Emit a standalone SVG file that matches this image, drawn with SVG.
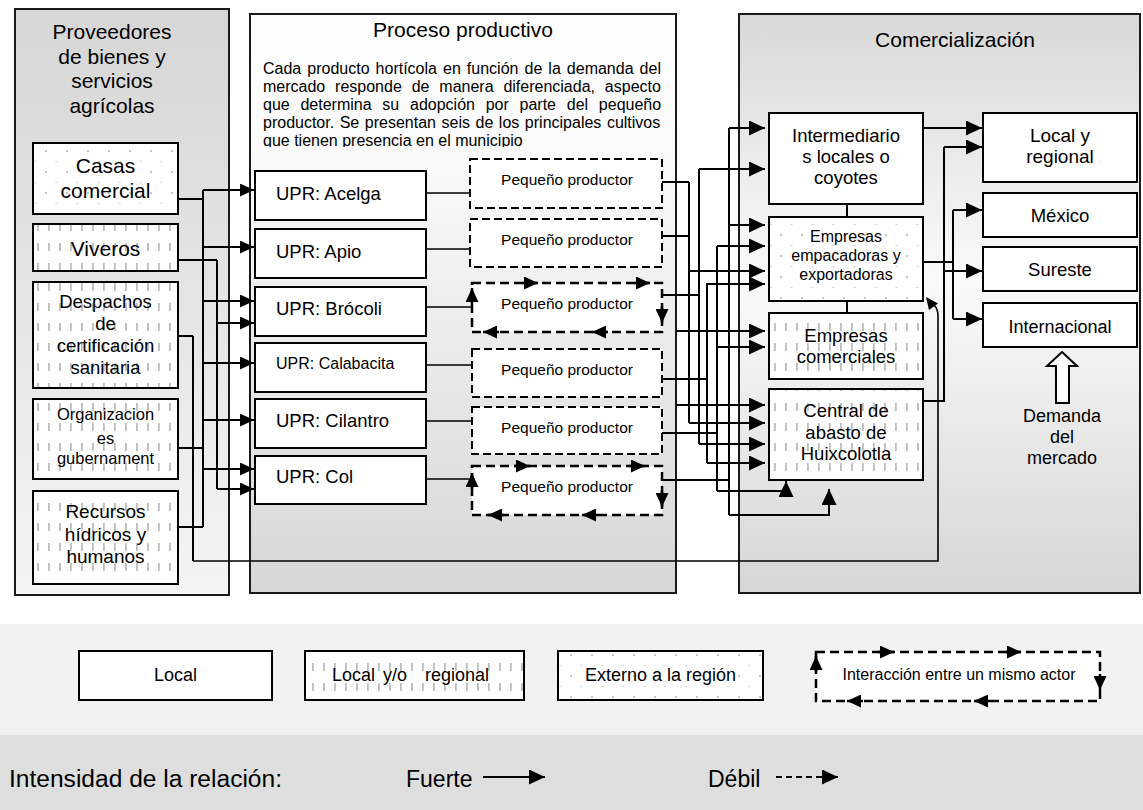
<svg xmlns="http://www.w3.org/2000/svg" width="1143" height="810" viewBox="0 0 1143 810">
<defs>
  <linearGradient id="gLeft" x1="0" y1="0" x2="0" y2="1">
    <stop offset="0" stop-color="#d6d6d6"/><stop offset="1" stop-color="#f4f4f4"/>
  </linearGradient>
  <linearGradient id="gMid" x1="0" y1="0" x2="0" y2="1">
    <stop offset="0" stop-color="#ffffff"/><stop offset="0.25" stop-color="#fafafa"/><stop offset="1" stop-color="#d6d6d6"/>
  </linearGradient>
  <linearGradient id="gRight" x1="0" y1="0" x2="0" y2="1">
    <stop offset="0" stop-color="#d8d8d8"/><stop offset="0.46" stop-color="#fafafa"/><stop offset="1" stop-color="#d6d6d6"/>
  </linearGradient>
  <pattern id="dots" width="21" height="21" patternUnits="userSpaceOnUse">
    <rect width="21" height="21" fill="#fff"/>
    <circle cx="4" cy="4" r="1" fill="#b4b4b4"/>
    <rect x="13.5" y="14" width="2" height="1" fill="#d0d0d0"/>
  </pattern>
  <pattern id="vdash" width="11" height="20" patternUnits="userSpaceOnUse">
    <rect width="11" height="20" fill="#fff"/>
    <rect x="4" y="3" width="1.8" height="8" fill="#bdbdbd"/>
  </pattern>
  <marker id="ah" viewBox="0 0 14 13" refX="14" refY="6.5" markerWidth="14" markerHeight="13" markerUnits="userSpaceOnUse" orient="auto">
    <path d="M0,0 L14,6.5 L0,13 Z" fill="#000"/>
  </marker>
  <marker id="ahb" viewBox="0 0 16 15" refX="16" refY="7.5" markerWidth="16" markerHeight="15" markerUnits="userSpaceOnUse" orient="auto">
    <path d="M0,0 L16,7.5 L0,15 Z" fill="#000"/>
  </marker>
  <marker id="ahs" viewBox="0 0 14 13" refX="14" refY="6.5" markerWidth="14" markerHeight="13" markerUnits="userSpaceOnUse" orient="auto">
    <path d="M0,0 L14,6.5 L0,13 Z" fill="#000"/>
  </marker>
  <clipPath id="clipPara"><rect x="255" y="50" width="415" height="97"/></clipPath>
</defs>
<style>
  text{font-family:"Liberation Sans",Arial,Helvetica,sans-serif;fill:#000}
  .m{text-anchor:middle}
  .box{stroke:#000;stroke-width:2}
  .panel{stroke:#1a1a1a;stroke-width:2}
  .dash{fill:#fff;stroke:#000;stroke-width:2;stroke-dasharray:8 4}
  .inter{fill:#fff;stroke:#000;stroke-width:2.5;stroke-dasharray:9 5}
  .cn{fill:none;stroke:#000;stroke-width:2}
  .cn1{fill:none;stroke:#000;stroke-width:1.6}
  .ar{marker-end:url(#ah)}
  .arb{marker-end:url(#ahb)}
  .ars{fill:none;stroke:#000;stroke-width:2.5;marker-end:url(#ahs)}
</style>
<rect width="1143" height="810" fill="#fff"/>

<!-- Panels -->
<g id="panel-proveedores">
  <rect x="15" y="9" width="214" height="586" fill="url(#gLeft)" class="panel"/>
  <g font-size="21">
    <text class="m" x="112" y="39">Proveedores</text>
    <text class="m" x="112" y="64">de bienes y</text>
    <text class="m" x="112" y="88">servicios</text>
    <text class="m" x="112" y="113">agrícolas</text>
  </g>
</g>
<g id="panel-proceso">
  <rect x="250" y="14" width="426" height="579" fill="url(#gMid)" class="panel"/>
  <text class="m" x="463" y="37" font-size="21">Proceso productivo</text>
  <g font-size="16" clip-path="url(#clipPara)">
    <text x="263" y="74" word-spacing="1.6">Cada producto hortícola en función de la demanda del</text>
    <text x="263" y="92" word-spacing="5.4">mercado responde de manera diferenciada, aspecto</text>
    <text x="263" y="110" word-spacing="6.3">que determina su adopción por parte del pequeño</text>
    <text x="263" y="128" word-spacing="1.1">productor. Se presentan seis de los principales cultivos</text>
    <text x="263" y="146">que tienen presencia en el municipio</text>
  </g>
</g>
<g id="panel-comercializacion">
  <rect x="739" y="14" width="401" height="579" fill="url(#gRight)" class="panel"/>
  <text class="m" x="955" y="47" font-size="21">Comercialización</text>
</g>

<!-- Supplier nodes -->
<g id="n-casas">
  <rect x="33" y="143" width="145" height="71" fill="url(#dots)" class="box"/>
  <text class="m" x="105.5" y="173" font-size="21">Casas</text>
  <text class="m" x="105.5" y="198" font-size="21">comercial</text>
</g>
<g id="n-viveros">
  <rect x="33" y="224" width="145" height="47" fill="url(#vdash)" class="box"/>
  <text class="m" x="105.5" y="256" font-size="21">Viveros</text>
</g>
<g id="n-despachos">
  <rect x="33" y="282" width="145" height="106" fill="url(#vdash)" class="box"/>
  <g font-size="18.5">
    <text class="m" x="105.5" y="308">Despachos</text>
    <text class="m" x="105.5" y="330">de</text>
    <text class="m" x="105.5" y="352">certificación</text>
    <text class="m" x="105.5" y="374">sanitaria</text>
  </g>
</g>
<g id="n-organizaciones">
  <rect x="33" y="399" width="145" height="80" fill="url(#vdash)" class="box"/>
  <g font-size="16.5">
    <text class="m" x="105.5" y="420">Organizacion</text>
    <text class="m" x="105.5" y="444">es</text>
    <text class="m" x="105.5" y="464">gubernament</text>
  </g>
</g>
<g id="n-recursos">
  <rect x="33" y="491" width="145" height="93" fill="url(#vdash)" class="box"/>
  <g font-size="19">
    <text class="m" x="105.5" y="518">Recursos</text>
    <text class="m" x="105.5" y="541">hídricos y</text>
    <text class="m" x="105.5" y="563">humanos</text>
  </g>
</g>

<!-- UPR nodes -->
<g id="n-upr-acelga"><rect x="255" y="171" width="171" height="49" fill="#fff" class="box"/><text x="276" y="200" font-size="18.5">UPR: Acelga</text></g>
<g id="n-upr-apio"><rect x="255" y="229" width="171" height="49" fill="#fff" class="box"/><text x="276" y="258" font-size="18.5">UPR: Apio</text></g>
<g id="n-upr-brocoli"><rect x="255" y="287" width="171" height="49" fill="#fff" class="box"/><text x="276" y="315" font-size="18.5">UPR: Brócoli</text></g>
<g id="n-upr-calabacita"><rect x="255" y="343" width="171" height="49" fill="#fff" class="box"/><text x="276" y="369" font-size="16">UPR: Calabacita</text></g>
<g id="n-upr-cilantro"><rect x="255" y="399" width="171" height="49" fill="#fff" class="box"/><text x="276" y="427" font-size="18.5">UPR: Cilantro</text></g>
<g id="n-upr-col"><rect x="255" y="456" width="171" height="48" fill="#fff" class="box"/><text x="276" y="483" font-size="18.5">UPR: Col</text></g>

<!-- Pequeño productor nodes -->
<g id="n-pp1"><rect x="470" y="159" width="192" height="49" class="dash"/><text class="m" x="567" y="185" font-size="15.5">Pequeño productor</text></g>
<g id="n-pp2"><rect x="470" y="219" width="192" height="48" class="dash"/><text class="m" x="567" y="245" font-size="15.5">Pequeño productor</text></g>
<g id="n-pp3">
  <rect x="472" y="283" width="190" height="49" class="inter"/>
  <text class="m" x="567" y="309" font-size="15.5">Pequeño productor</text>
  <path class="ars" d="M522 283 H538"/><path class="ars" d="M634 283 H650"/>
  <path class="ars" d="M662 307 V323"/>
  <path class="ars" d="M499 332 H483"/><path class="ars" d="M608 332 H592"/>
  <path class="ars" d="M472 304 V288"/>
</g>
<g id="n-pp4"><rect x="472" y="349" width="190" height="48" class="dash"/><text class="m" x="567" y="375" font-size="15.5">Pequeño productor</text></g>
<g id="n-pp5"><rect x="472" y="407" width="190" height="47" class="dash"/><text class="m" x="567" y="433" font-size="15.5">Pequeño productor</text></g>
<g id="n-pp6">
  <rect x="472" y="466" width="190" height="49" class="inter"/>
  <text class="m" x="567" y="492" font-size="15.5">Pequeño productor</text>
  <path class="ars" d="M514 466 H530"/><path class="ars" d="M629 466 H645"/>
  <path class="ars" d="M662 491 V507"/>
  <path class="ars" d="M504 515 H488"/><path class="ars" d="M598 515 H582"/>
  <path class="ars" d="M472 489 V473"/>
</g>

<!-- Comercialización nodes -->
<g id="n-intermediarios">
  <rect x="769" y="113" width="154" height="91" fill="#fff" class="box"/>
  <g font-size="18.5">
    <text class="m" x="846" y="142">Intermediario</text>
    <text class="m" x="846" y="163">s locales o</text>
    <text class="m" x="846" y="184">coyotes</text>
  </g>
</g>
<g id="n-empacadoras">
  <rect x="769" y="217" width="154" height="84" fill="url(#dots)" class="box"/>
  <g font-size="16">
    <text class="m" x="846" y="242">Empresas</text>
    <text class="m" x="846" y="261">empacadoras y</text>
    <text class="m" x="846" y="280">exportadoras</text>
  </g>
</g>
<g id="n-comerciales">
  <rect x="769" y="313" width="154" height="66" fill="url(#vdash)" class="box"/>
  <g font-size="18.5">
    <text class="m" x="846" y="342">Empresas</text>
    <text class="m" x="846" y="363">comerciales</text>
  </g>
</g>
<g id="n-central">
  <rect x="769" y="389" width="154" height="91" fill="url(#vdash)" class="box"/>
  <g font-size="18.5">
    <text class="m" x="846" y="417">Central de</text>
    <text class="m" x="846" y="439">abasto de</text>
    <text class="m" x="846" y="460">Huixcolotla</text>
  </g>
</g>
<g id="n-local-regional">
  <rect x="983" y="113" width="154" height="69" fill="#fff" class="box"/>
  <text class="m" x="1060" y="142" font-size="19">Local y</text>
  <text class="m" x="1060" y="163" font-size="19">regional</text>
</g>
<g id="n-mexico"><rect x="983" y="193" width="154" height="44" fill="#fff" class="box"/><text class="m" x="1060" y="222" font-size="18.5">México</text></g>
<g id="n-sureste"><rect x="983" y="247" width="154" height="44" fill="#fff" class="box"/><text class="m" x="1060" y="276" font-size="18.5">Sureste</text></g>
<g id="n-internacional"><rect x="983" y="303" width="154" height="44" fill="#fff" class="box"/><text class="m" x="1060" y="333" font-size="18">Internacional</text></g>
<g id="n-demanda">
  <polygon points="1062,352 1077,366 1069,366 1069,403 1056,403 1056,366 1047,366" fill="#fff" stroke="#000" stroke-width="2"/>
  <g font-size="18">
    <text class="m" x="1062" y="422">Demanda</text>
    <text class="m" x="1062" y="443">del</text>
    <text class="m" x="1062" y="464">mercado</text>
  </g>
</g>

<!-- Connectors -->
<g id="connectors">
  <path class="cn" d="M178 199 H203 M178 260 H217 M178 336 H193 M178 448 H203 M178 527 H203"/>
  <path class="cn" d="M203 190 V527 M217 260 V489 M193 336 V561"/>
  <path class="cn ar" d="M203 190 H254"/>
  <path class="cn ar" d="M203 247 H254"/>
  <path class="cn ar" d="M203 301 H254"/>
  <path class="cn ar" d="M217 323 H254"/>
  <path class="cn ar" d="M203 363 H254"/>
  <path class="cn ar" d="M203 420 H254"/>
  <path class="cn ar" d="M203 469 H254"/>
  <path class="cn ar" d="M217 489 H254"/>
  <path class="cn1" d="M193 561 H938 V316 Q938 309 934 305"/>
  <polygon points="926,297 938,303.5 929,310" fill="#000"/>
  <path class="cn1" d="M426 193 H470 M426 249 H470 M427 307 H472 M427 365 H472 M427 421 H472 M427 479 H472"/>
  <path class="cn" d="M662 182 H689 M662 236 H689 M662 295 H699 M662 379 H707 M662 433 H717 M662 480 H729"/>
  <path class="cn" d="M689 182 V423 M699 169 V444 M707 283 V463 M717 246 V491 M729 128 V515"/>
  <path class="cn arb" d="M729 128 H765"/>
  <path class="cn arb" d="M699 169 H765"/>
  <path class="cn arb" d="M729 225 H765"/>
  <path class="cn arb" d="M717 246 H765"/>
  <path class="cn arb" d="M689 271 H765"/>
  <path class="cn arb" d="M707 284 H765"/>
  <path class="cn arb" d="M676 331 H765"/>
  <path class="cn arb" d="M717 347 H765"/>
  <path class="cn arb" d="M676 405 H765"/>
  <path class="cn arb" d="M689 423 H765"/>
  <path class="cn arb" d="M699 444 H765"/>
  <path class="cn arb" d="M707 463 H765"/>
  <path class="cn arb" d="M717 491 H786 V481"/>
  <path class="cn arb" d="M729 515 H829 V489"/>
  <path class="cn" d="M847 204 V217 M847 301 V313"/>
  <path class="cn arb" d="M923 128 H982"/>
  <path class="cn" d="M923 401 H944 V147 M923 262 H953 M953 210 V319"/>
  <path class="cn arb" d="M944 147 H982"/>
  <path class="cn arb" d="M944 271 H982"/>
  <path class="cn arb" d="M953 210 H982"/>
  <path class="cn arb" d="M953 319 H982"/>
</g>

<!-- Legend -->
<g id="legend">
  <rect x="0" y="624" width="1143" height="111" fill="#f2f2f2"/>
  <rect x="0" y="735" width="1143" height="75" fill="#dedede"/>
  <g id="lg-local">
    <rect x="79" y="651" width="193" height="49" fill="#fff" class="box"/>
    <text class="m" x="175.5" y="681" font-size="18">Local</text>
  </g>
  <g id="lg-regional">
    <rect x="305" y="651" width="219" height="49" fill="url(#vdash)" class="box"/>
    <text y="681" font-size="18"><tspan x="332">Local</tspan><tspan x="383">y/o</tspan><tspan x="425">regional</tspan></text>
  </g>
  <g id="lg-externo">
    <rect x="558" y="651" width="205" height="49" fill="url(#dots)" class="box"/>
    <text class="m" x="660.5" y="681" font-size="18">Externo a la región</text>
  </g>
  <g id="lg-interaccion">
    <rect x="816" y="652" width="284" height="49" class="inter"/>
    <text class="m" x="959" y="680" font-size="16">Interacción entre un mismo actor</text>
    <path class="ars" d="M878 652 H894"/><path class="ars" d="M1005 652 H1021"/>
    <path class="ars" d="M1100 674 V690"/>
    <path class="ars" d="M863 701 H847"/><path class="ars" d="M990 701 H974"/>
    <path class="ars" d="M816 672 V656"/>
  </g>
  <text x="9" y="787" font-size="23" textLength="273" lengthAdjust="spacingAndGlyphs">Intensidad de la relación:</text>
  <text x="406" y="787" font-size="23">Fuerte</text>
  <path class="cn arb" d="M483 777 H545"/>
  <text x="708" y="787" font-size="23">Débil</text>
  <path fill="none" stroke="#000" stroke-width="2" stroke-dasharray="6 4" d="M776 777 H826"/>
  <path class="cn arb" d="M826 777 H838"/>
</g>
</svg>
